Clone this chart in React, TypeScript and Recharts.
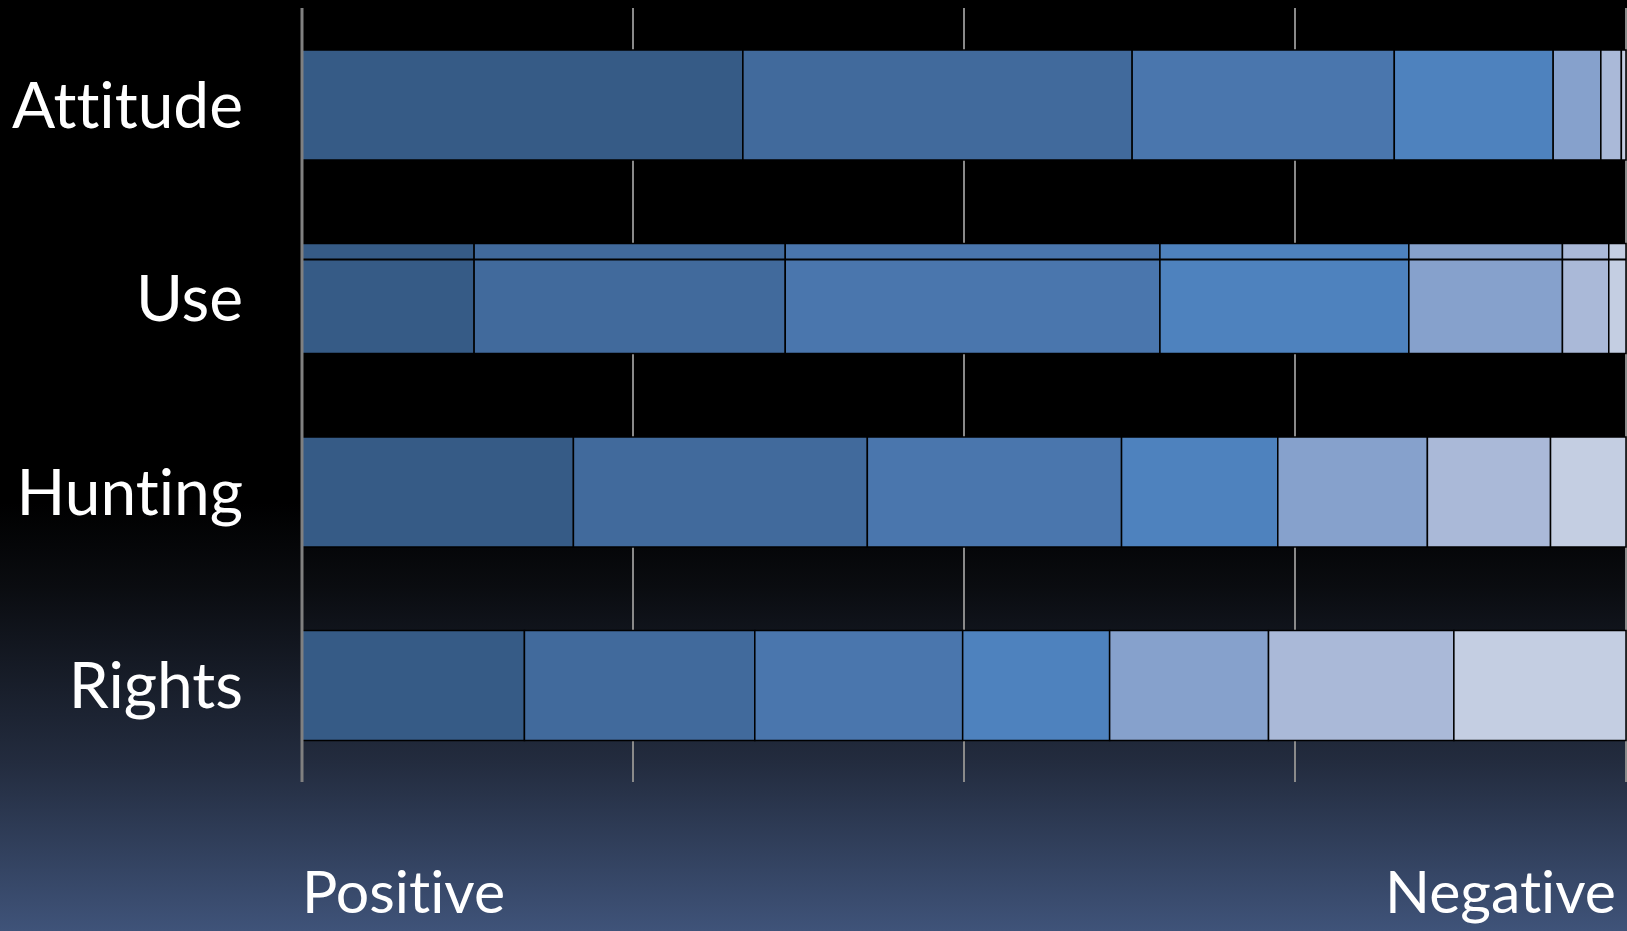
import React from "react";
import { BarChart, Bar, XAxis, YAxis, CartesianGrid } from "recharts";

const categories = ["Attitude", "Use", "Hunting", "Rights"];
const level1 = [33.3, 13.0, 20.5, 16.8];
const level2 = [29.4, 23.5, 22.2, 17.4];
const level3 = [19.8, 28.3, 19.2, 15.7];
const level4 = [12.0, 18.8, 11.8, 11.1];
const level5 = [3.6, 11.6, 11.3, 12.0];
const level6 = [1.55, 3.5, 9.3, 14.0];
const level7 = [0.35, 1.3, 5.7, 13.0];
const xTicks = [0, 25, 50, 75, 100];
const xTickLabels: Record<number, string> = { 0: "Positive", 100: "Negative" };
const stripedCategory = "Use";

const seriesKeys = ["l1", "l2", "l3", "l4", "l5", "l6", "l7"];
const seriesValues = [level1, level2, level3, level4, level5, level6, level7];
const colors = ["#365b86", "#416a9c", "#4a76ad", "#4e82be", "#86a1cc", "#aab9d8", "#c4cee2"];

const data = categories.map((name, i) => {
  const row: Record<string, string | number> = { name };
  seriesKeys.forEach((k, j) => {
    row[k] = seriesValues[j][i];
  });
  return row;
});

const FONT = "Lato, 'Open Sans', sans-serif";
const noLig: React.CSSProperties = { fontVariantLigatures: "none", fontFeatureSettings: "'liga' 0, 'clig' 0" };

const YTick = (props: any) => {
  const { x, y, payload } = props;
  return (
    <text
      x={x - 59}
      y={y}
      dy={23}
      textAnchor="end"
      fill="#ffffff"
      fontSize={64}
      fontFamily={FONT}
      style={noLig}
    >
      {payload.value}
    </text>
  );
};

const XTick = (props: any) => {
  const { x, y, payload } = props;
  const label = xTickLabels[payload.value];
  if (!label) return null;
  const isEnd = payload.value === 100;
  return (
    <text
      x={isEnd ? x - 10 : x}
      y={y}
      dy={131}
      textAnchor={isEnd ? "end" : "start"}
      fill="#ffffff"
      fontSize={59}
      fontFamily={FONT}
      style={noLig}
    >
      {label}
    </text>
  );
};

const SegmentShape = (props: any) => {
  const { x, y, width, height, fill, payload } = props;
  if (!width || width <= 0) return null;
  return (
    <g>
      <rect x={x} y={y} width={width} height={height} fill={fill} stroke="#000000" strokeWidth={1.5} />
      {payload && payload.name === stripedCategory ? (
        <line x1={x} x2={x + width} y1={y + 16} y2={y + 16} stroke="#000000" strokeWidth={2} />
      ) : null}
    </g>
  );
};

export default function App() {
  return (
    <div
      style={{
        position: "fixed",
        left: 0,
        top: 0,
        width: 1627,
        height: 931,
        background:
          "linear-gradient(to bottom, #000000 0%, #000000 54%, #0a0c10 63%, #232c3f 82%, #3f5379 100%)",
        overflow: "hidden",
      }}
    >
      <BarChart
        width={1627}
        height={931}
        data={data}
        layout="vertical"
        margin={{ top: 8, right: 1, left: 0, bottom: 0 }}
        barSize={110}
      >
        <CartesianGrid horizontal={false} vertical={true} stroke="#8a8a8a" strokeWidth={2} />
        <XAxis
          type="number"
          domain={[0, 100]}
          ticks={xTicks}
          axisLine={false}
          tickLine={false}
          tickSize={0}
          tickMargin={0}
          height={149}
          tick={<XTick />}
          interval={0}
        />
        <YAxis
          type="category"
          dataKey="name"
          width={302}
          axisLine={{ stroke: "#808080", strokeWidth: 3 }}
          tickLine={false}
          tickSize={0}
          tickMargin={0}
          tick={<YTick />}
          interval={0}
        />
        {seriesKeys.map((k, j) => (
          <Bar
            key={k}
            dataKey={k}
            stackId="s"
            fill={colors[j]}
            stroke="#000000"
            strokeWidth={1.5}
            shape={<SegmentShape />}
            isAnimationActive={false}
          />
        ))}
      </BarChart>
    </div>
  );
}
